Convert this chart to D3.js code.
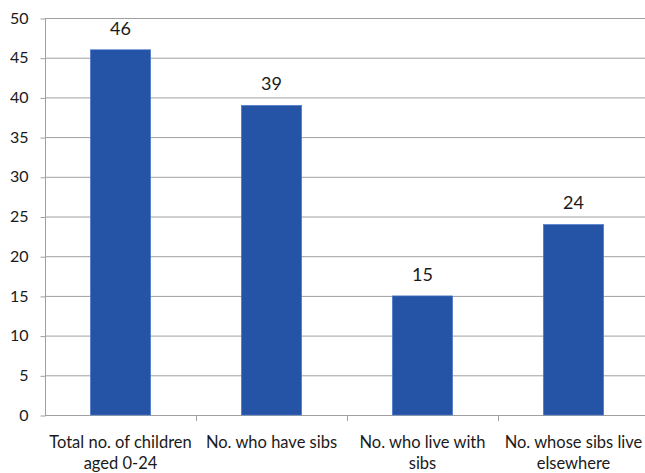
<!DOCTYPE html>
<html><head><meta charset="utf-8">
<script src="https://cdn.jsdelivr.net/npm/d3@7"></script>
<style>body{margin:0;background:#fff}svg{display:block}</style>
</head><body><svg id="c" width="645" height="473"></svg>
<script>
const categories = ["Total no. of children aged 0-24","No. who have sibs","No. who live with sibs","No. whose sibs live elsewhere"];
const categoryLines = [["Total no. of children","aged 0-24"],["No. who have sibs"],["No. who live with","sibs"],["No. whose sibs live","elsewhere"]];
const values = [46,39,15,24];
const yTicks = [0,5,10,15,20,25,30,35,40,45,50];

const svg = d3.select("#c");
const font = "Lato, 'Open Sans', sans-serif";
const x = d3.scaleBand().domain(categories).range([45,649]).padding(0);
const y = d3.scaleLinear().domain([0,50]).range([415,18]);

// gridlines
svg.append("g").selectAll("line").data(yTicks.filter(d=>d>0)).join("line")
  .attr("x1",45).attr("x2",645).attr("y1",d=>y(d)+0.5).attr("y2",d=>y(d)+0.5)
  .attr("stroke","#a0a0a0").attr("stroke-width",1);

// y axis
const ya = svg.append("g").attr("transform","translate(45.5,0)")
  .call(d3.axisLeft(y).tickValues(yTicks).tickSize(5).tickPadding(12));
ya.select(".domain").attr("stroke","#a0a0a0").attr("d","M0,"+y(50)+"V"+(y(0)+0.5));
ya.selectAll(".tick line").attr("stroke","#a0a0a0").attr("transform","translate(0,0.5)");
ya.selectAll("text").attr("font-family",font).attr("font-size",16).attr("fill","#1a1a1a");

// x axis
const xa = svg.append("g").attr("transform","translate(0,"+(y(0)+0.5)+")")
  .call(d3.axisBottom(x).tickSize(0).tickFormat(""));
xa.select(".domain").attr("stroke","#a0a0a0").attr("d","M45,0H645");
xa.selectAll(".tick").remove();
svg.append("g").selectAll("line").data(categories.slice(1)).join("line")
  .attr("x1",d=>Math.round(x(d))+0.5).attr("x2",d=>Math.round(x(d))+0.5)
  .attr("y1",y(0)).attr("y2",y(0)+6).attr("stroke","#a0a0a0");

// bars
svg.append("g").selectAll("rect").data(values).join("rect")
  .attr("x",(d,i)=>x(categories[i])+x.bandwidth()*0.3)
  .attr("width",x.bandwidth()*0.4)
  .attr("y",d=>y(d)).attr("height",d=>y(0)-y(d))
  .attr("fill","#2553a6").attr("stroke","#4f7fd0").attr("stroke-width",0.6);

// value labels
svg.append("g").selectAll("text").data(values).join("text")
  .attr("x",(d,i)=>x(categories[i])+x.bandwidth()/2)
  .attr("y",d=>y(d)-15)
  .attr("text-anchor","middle").attr("font-family",font).attr("font-size",18)
  .attr("fill","#1a1a1a").text(d=>d);

// category labels
const cl = svg.append("g").selectAll("text").data(categoryLines).join("text")
  .attr("x",(d,i)=>x(categories[i])+x.bandwidth()/2)
  .attr("y",448).attr("text-anchor","middle").attr("font-family",font)
  .attr("font-size",16.5).attr("fill","#1a1a1a");
cl.each(function(lines){
  const t=d3.select(this);
  lines.forEach((l,j)=>t.append("tspan").attr("x",t.attr("x")).attr("dy",j?21:0).text(l));
});
</script></body></html>
